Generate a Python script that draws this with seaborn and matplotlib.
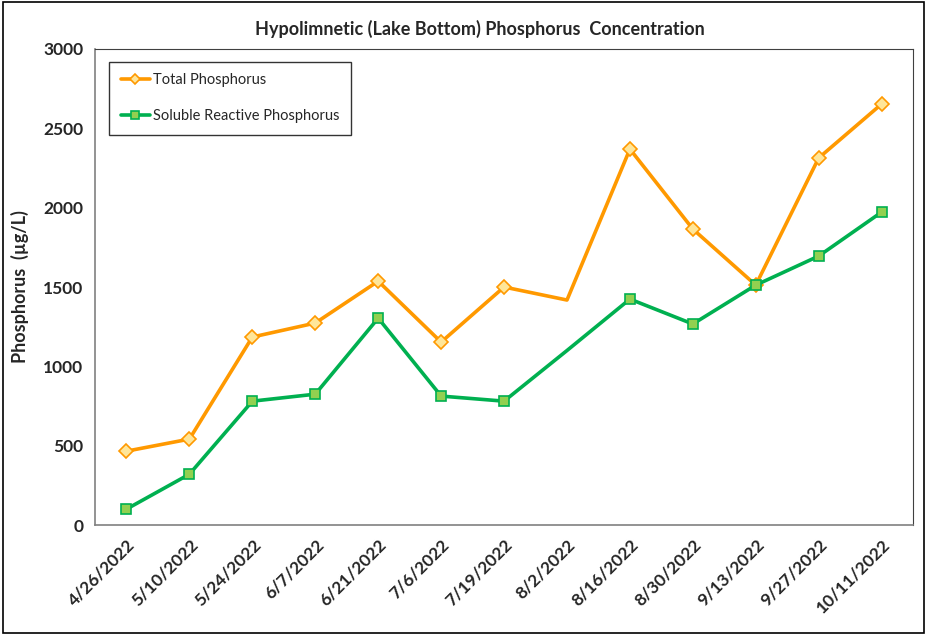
import numpy as np
import pandas as pd
import matplotlib
matplotlib.use("Agg")
import matplotlib.pyplot as plt
import seaborn as sns
from matplotlib.ticker import FixedLocator

# Data

dates = [
    "4/26/2022", "5/10/2022", "5/24/2022", "6/7/2022", "6/21/2022",
    "7/6/2022", "7/19/2022", "8/2/2022", "8/16/2022", "8/30/2022",
    "9/13/2022", "9/27/2022", "10/11/2022"
]

total_p = [466, 542, 1185, 1273, 1537, 1153, 1500, 1418, 2369, 1865, 1512, 2313, 2653]

srp = [101, 321, 781, 825, 1304, 813, 781, 1100, 1424, 1267, 1512, 1695, 1972]

# no markers on 8/2
marked = [i for i in range(len(dates)) if dates[i] != "8/2/2022"]

df = pd.DataFrame({
    "Date": dates,
    "Total Phosphorus": total_p,
    "Soluble Reactive Phosphorus": srp
})

sns.set_style("white")
plt.rcParams["font.family"] = ["Lato", "DejaVu Sans"]

fig = plt.figure(figsize=(9.27, 6.35), dpi=100)
ax = fig.add_axes([0.1025, 0.173, 0.8825, 0.75])

sns.lineplot(
    data=df, x="Date", y="Total Phosphorus", ax=ax, sort=False,
    color="#FF9900", linewidth=2.6, marker="D", markersize=7,
    markerfacecolor="#FFE699", markeredgecolor="#FF9900",
    markeredgewidth=1.2, markevery=marked, label="Total Phosphorus"
)

sns.lineplot(
    data=df, x="Date", y="Soluble Reactive Phosphorus", ax=ax, sort=False,
    color="#00B050", linewidth=2.6, marker="s", markersize=7,
    markerfacecolor="#92D050", markeredgecolor="#00B050",
    markeredgewidth=1.2, markevery=marked, label="Soluble Reactive Phosphorus"
)

ax.set_xlim(-0.5, len(dates) - 0.5)
ax.set_ylim(0, 3000)
ax.set_yticks(np.arange(0, 3001, 500))

ax.xaxis.set_major_locator(FixedLocator(range(len(dates))))
ax.set_xticklabels(dates, rotation=45, ha="right", rotation_mode="anchor",
                   fontsize=12.5, fontweight="bold")
ax.xaxis.set_minor_locator(FixedLocator(np.arange(-0.5, len(dates), 1)))
ax.tick_params(axis="x", which="major", length=0, pad=8)
ax.tick_params(axis="x", which="minor", length=5, color="#808080", width=1)
ax.tick_params(axis="y", length=5, color="#808080", width=1, labelsize=12.5)
for lbl in ax.get_yticklabels():
    lbl.set_fontweight("bold")

for side in ["left", "bottom"]:
    ax.spines[side].set_color("#808080")
    ax.spines[side].set_linewidth(1.2)
for side in ["top", "right"]:
    ax.spines[side].set_color("#404040")
    ax.spines[side].set_linewidth(0.8)

ax.set_xlabel("")
ax.set_ylabel("Phosphorus  (µg/L)", fontsize=13, fontweight="bold", labelpad=10)

fig.suptitle("Hypolimnetic (Lake Bottom) Phosphorus  Concentration",
             x=0.518, y=0.968, fontsize=13, fontweight="bold")

leg = ax.legend(loc="upper left", bbox_to_anchor=(0.017, 0.973),
                frameon=True, fancybox=False, fontsize=10.5,
                labelspacing=1.5, borderpad=0.8, handlelength=2.0,
                handletextpad=0.2, borderaxespad=0, markerscale=0.8)
leg.get_frame().set_edgecolor("black")
leg.get_frame().set_linewidth(1.0)

# outer chart border
fig.patches.append(plt.Rectangle((0.003, 0.003), 0.994, 0.994,
                                 transform=fig.transFigure, fill=False,
                                 edgecolor="black", linewidth=1.2))

fig.savefig("out.png", dpi=100)
